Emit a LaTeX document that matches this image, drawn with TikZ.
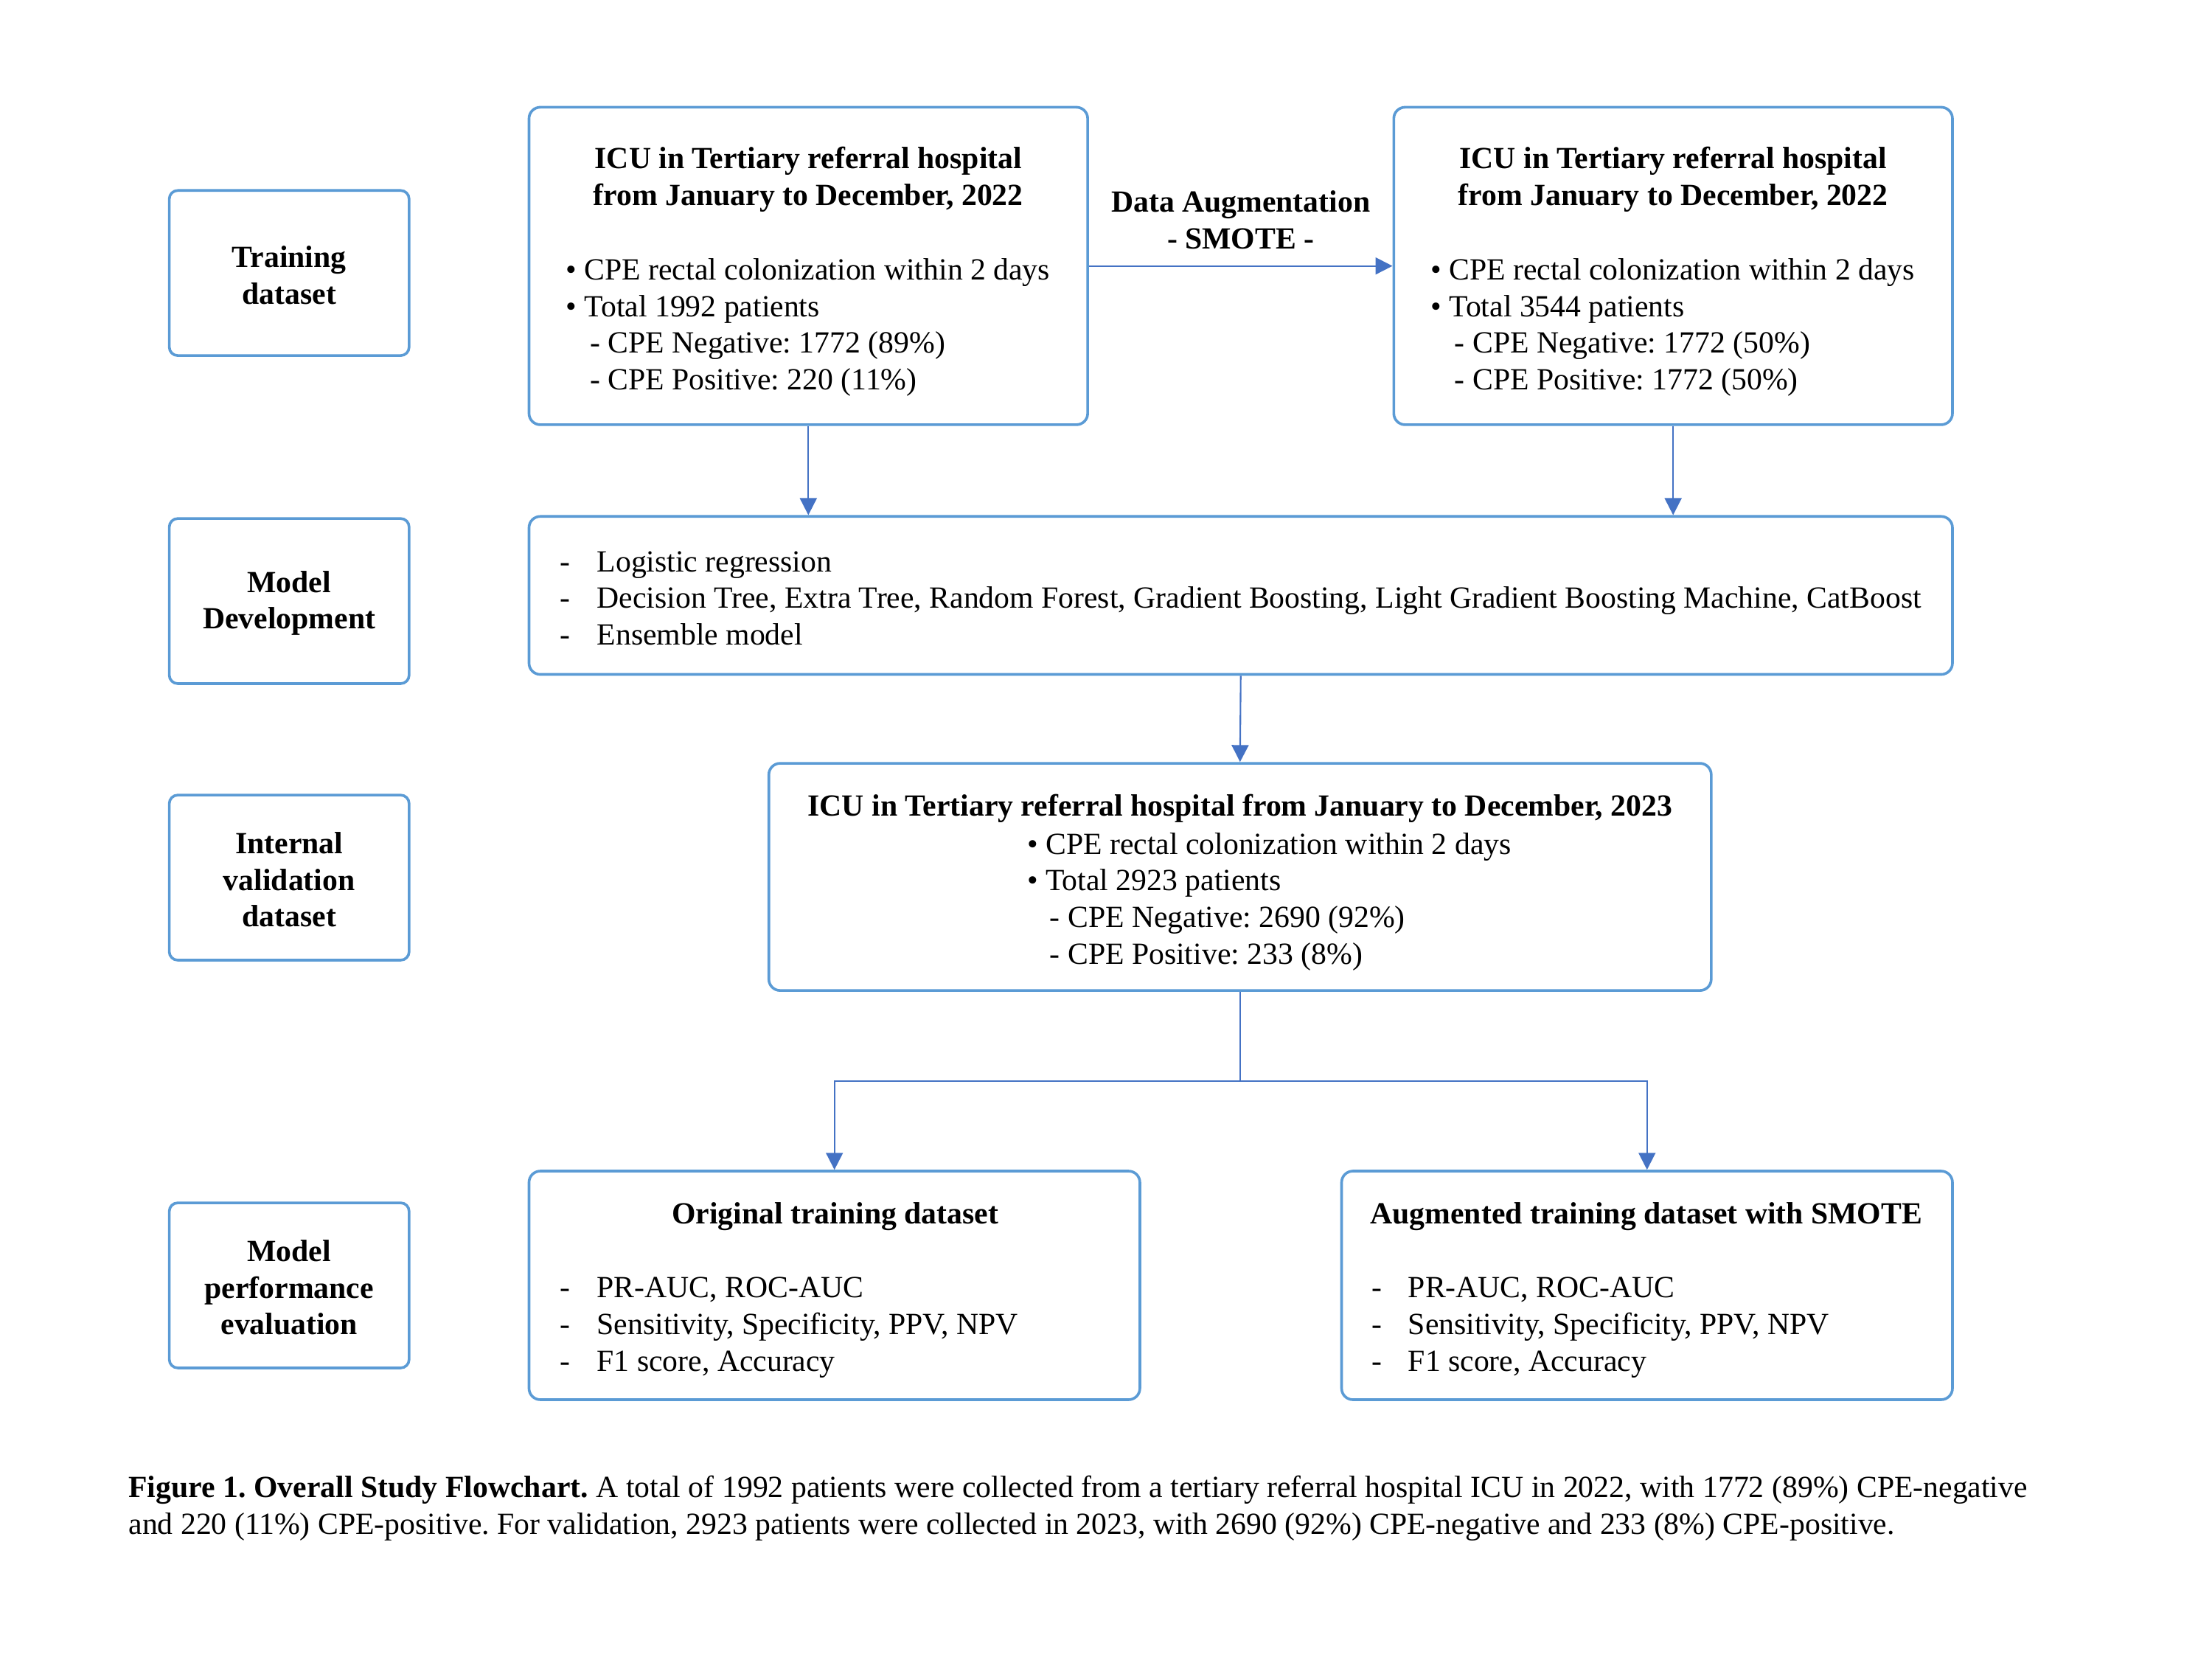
\documentclass[tikz,border=0pt]{standalone}
\usepackage{fontspec}
\setmainfont{Liberation Serif}
\usetikzlibrary{arrows.meta}
\definecolor{boxblue}{HTML}{5B9BD5}
\definecolor{arrblue}{HTML}{4472C4}
\frenchspacing
\begin{document}
\begin{tikzpicture}[x=1pt,y=-1pt,
  box/.style={draw=boxblue, line width=1.9pt, rounded corners=8pt, inner sep=0pt},
  sidebox/.style={box, rounded corners=6pt, minimum width=170pt, minimum height=117pt},
  txt/.style={inner sep=0pt, font=\fontsize{21.8}{26}\selectfont},
  hd/.style={txt, font=\fontsize{21.8}{26}\selectfont\bfseries, align=center},
  lst/.style={txt, anchor=west, align=left},
  conn/.style={draw=arrblue, line width=1.1pt},
  arr/.style={conn, -{Triangle[length=12pt,width=12pt]}}]
\useasboundingbox (0,0) rectangle (1568,1176);
% side labels
\node[sidebox] (tr) at (205,193.5) {};
\node[sidebox] (md) at (205,426) {};
\node[sidebox] (iv) at (205,622) {};
\node[sidebox] (mp) at (205,911) {};
\node[hd] (trt) at (205,195) {Training\\dataset};
\node[hd] (mdt) at (205,427.5) {Model\\Development};
\node[hd] (ivt) at (205,623.5) {Internal\\validation\\dataset};
\node[hd] (mpt) at (205,912.5) {Model\\performance\\evaluation};
% main boxes
\node[box, minimum width=396pt, minimum height=225pt] (A) at (573,188.5) {};
\node[box, minimum width=396pt, minimum height=225pt] (B) at (1186,188.5) {};
\node[box, minimum width=1009pt, minimum height=112pt] (M) at (879.5,422) {};
\node[box, minimum width=668pt, minimum height=161pt] (V) at (879,621.5) {};
\node[box, minimum width=433pt, minimum height=162pt] (O) at (591.5,911) {};
\node[box, minimum width=433pt, minimum height=162pt] (G) at (1167.5,911) {};
% texts of A
\node[hd] (Ah) at (573,127) {ICU in Tertiary referral hospital\\from January to December, 2022};
\node[lst] (Al) at (401,232) {• CPE rectal colonization within 2 days\\• Total 1992 patients\\\hspace*{17pt}- CPE Negative: 1772 (89\%)\\\hspace*{17pt}- CPE Positive: 220 (11\%)};
% texts of B
\node[hd] (Bh) at (1186,127) {ICU in Tertiary referral hospital\\from January to December, 2022};
\node[lst] (Bl) at (1014,232) {• CPE rectal colonization within 2 days\\• Total 3544 patients\\\hspace*{17pt}- CPE Negative: 1772 (50\%)\\\hspace*{17pt}- CPE Positive: 1772 (50\%)};
% model development
\node[lst] (Ml) at (397,424) {\makebox[26pt][l]{-}Logistic regression\\\makebox[26pt][l]{-}Decision Tree, Extra Tree, Random Forest, Gradient Boosting, Light Gradient Boosting Machine, CatBoost\\\makebox[26pt][l]{-}Ensemble model};
% validation
\node[hd] (Vh) at (879,573) {ICU in Tertiary referral hospital from January to December, 2023};
\node[lst] (Vl) at (728,639) {• CPE rectal colonization within 2 days\\• Total 2923 patients\\\hspace*{16pt}- CPE Negative: 2690 (92\%)\\\hspace*{16pt}- CPE Positive: 233 (8\%)};
% evaluation
\node[hd] (Oh) at (592,862) {Original training dataset};
\node[lst] (Ol) at (397,941) {\makebox[26pt][l]{-}PR-AUC, ROC-AUC\\\makebox[26pt][l]{-}Sensitivity, Specificity, PPV, NPV\\\makebox[26pt][l]{-}F1 score, Accuracy};
\node[hd] (Gh) at (1167,862) {Augmented training dataset with SMOTE};
\node[lst] (Gl) at (972,941) {\makebox[26pt][l]{-}PR-AUC, ROC-AUC\\\makebox[26pt][l]{-}Sensitivity, Specificity, PPV, NPV\\\makebox[26pt][l]{-}F1 score, Accuracy};
% connectors
\draw[arr] (A.east) -- (B.west) node[hd, midway, above=11.5pt] (smote) {Data Augmentation\\- SMOTE -};
\draw[arr] (A.south) -- (A.south |- M.north);
\draw[arr] (B.south) -- (B.south |- M.north);
\draw[arr] (M.south) -- (V.north);
\coordinate (split) at (879,766);
\draw[conn] (V.south) -- (split);
\draw[arr] (split) -| (O.north);
\draw[arr] (split) -| (G.north);
% caption
\node[txt, anchor=west, text width=1346pt, align=justify] (cap) at (91,1069)
 {\textbf{Figure 1. Overall Study Flowchart.} A total of 1992 patients were collected from a tertiary referral hospital ICU in 2022, with 1772 (89\%) CPE-negative\linebreak and 220 (11\%) CPE-positive. For validation, 2923 patients were collected in 2023, with 2690 (92\%) CPE-negative and 233 (8\%) CPE-positive.};
\end{tikzpicture}
\end{document}
